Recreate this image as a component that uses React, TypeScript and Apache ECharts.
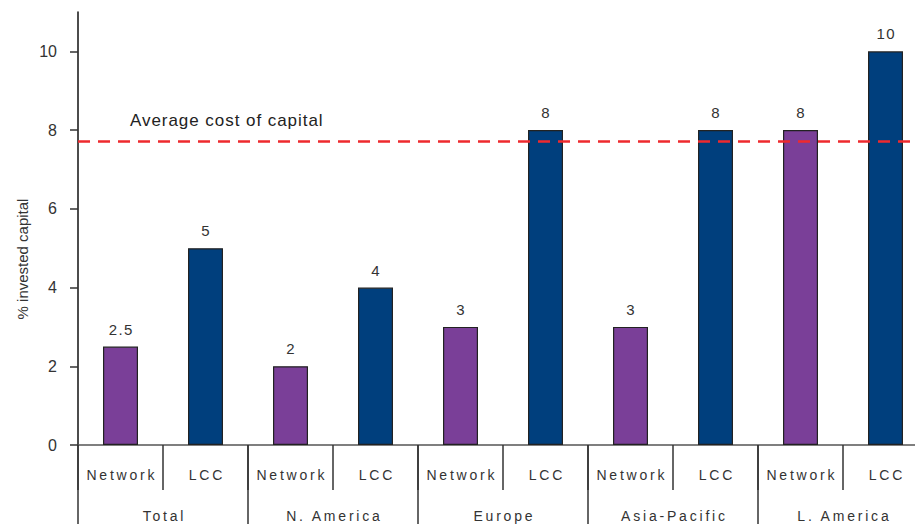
import React, { useEffect, useRef } from "react";
import * as echarts from "echarts";

const carrierTypes = ["Network", "LCC", "Network", "LCC", "Network", "LCC", "Network", "LCC", "Network", "LCC"];
const regions = ["Total", "N. America", "Europe", "Asia-Pacific", "L. America"];
const returnValues = [2.5, 5, 2, 4, 3, 8, 3, 8, 8, 10];
const yTickValues = [0, 2, 4, 6, 8, 10];
const averageCostOfCapital = 7.72;

const PURPLE = "#7A3F98";
const BLUE = "#003F7D";
const FONT = "Liberation Sans, Arial, sans-serif";

function spaceTexts(root: HTMLElement) {
  const wide = new Set([...carrierTypes, ...regions]);
  const values = new Set(returnValues.map((v) => String(v)));
  root.querySelectorAll("text").forEach((t) => {
    const s = (t.textContent || "").trim();
    let sp = 0;
    if (wide.has(s)) sp = 2.8;
    else if (s === "Average cost of capital") sp = 0.95;
    else if (values.has(s)) {
      const r = t.getBoundingClientRect();
      const rootR = root.getBoundingClientRect();
      if (r.left - rootR.left > 80) sp = 1.3;
    }
    if (sp > 0) {
      t.setAttribute("letter-spacing", String(sp));
      const anchor = t.getAttribute("text-anchor") || (t as any).style?.textAnchor;
      if (anchor === "middle") t.setAttribute("dx", String(sp / 2));
    }
  });
}

export default function App() {
  const ref = useRef<HTMLDivElement>(null);
  useEffect(() => {
    document.body.style.margin = "0";
    const el = ref.current!;
    const chart = echarts.init(el, null, { renderer: "svg" });
    const apply = () => spaceTexts(el);
    chart.on("finished", apply);
    chart.setOption({
      animation: false,
      grid: { left: 78, width: 850, top: 12, height: 433, containLabel: false },
      graphic: [
        {
          type: "text",
          x: 22,
          y: 259,
          rotation: Math.PI / 2,
          style: {
            text: "% invested capital",
            fontSize: 15,
            fill: "#333",
            fontFamily: FONT,
            align: "center",
            verticalAlign: "middle",
          },
        },
      ],
      xAxis: [
        {
          type: "category",
          data: carrierTypes,
          position: "bottom",
          axisLine: { show: true, onZero: false, lineStyle: { color: "#555", width: 1.5 } },
          axisTick: { show: true, length: 45, interval: 0, lineStyle: { color: "#333", width: 1.5 } },
          axisLabel: { interval: 0, margin: 23, fontSize: 14, color: "#333", fontFamily: FONT },
        },
        {
          type: "category",
          data: regions,
          position: "bottom",
          axisLine: { show: false },
          axisTick: { show: true, length: 85, interval: 0, lineStyle: { color: "#333", width: 1.5 } },
          axisLabel: { interval: 0, margin: 64, fontSize: 14, color: "#333", fontFamily: FONT },
        },
      ],
      yAxis: {
        type: "value",
        min: 0,
        max: 11,
        interval: 2,
        axisLine: { show: true, lineStyle: { color: "#111", width: 1.5 } },
        axisTick: { show: true, length: 8, customValues: yTickValues, lineStyle: { color: "#333", width: 1.5 } },
        axisLabel: { customValues: yTickValues, margin: 21, fontSize: 16, color: "#333", fontFamily: FONT },
        splitLine: { show: false },
      },
      series: [
        {
          type: "bar",
          xAxisIndex: 0,
          data: returnValues,
          barWidth: 35,
          itemStyle: {
            color: (p: any) => (p.dataIndex % 2 === 0 ? PURPLE : BLUE),
            borderColor: "#222",
            borderWidth: 1.2,
          },
          label: {
            show: true,
            position: "top",
            distance: 10,
            fontSize: 15,
            color: "#333",
            fontFamily: FONT,
          },
          markLine: {
            symbol: "none",
            silent: true,
            lineStyle: { color: "#EE2A2E", type: [12, 8], width: 2.5 },
            label: {
              show: true,
              position: "insideStartTop",
              formatter: "Average cost of capital",
              distance: [52, 12],
              fontSize: 17,
              color: "#222",
              fontFamily: FONT,
            },
            data: [{ yAxis: averageCostOfCapital }],
          },
        },
      ],
    });
    apply();
    const t1 = setTimeout(apply, 50);
    const t2 = setTimeout(apply, 300);
    return () => {
      clearTimeout(t1);
      clearTimeout(t2);
      chart.dispose();
    };
  }, []);
  return (
    <div style={{ width: 915, height: 524, overflow: "hidden", position: "relative" }}>
      <div ref={ref} style={{ width: 932, height: 524 }} />
    </div>
  );
}
